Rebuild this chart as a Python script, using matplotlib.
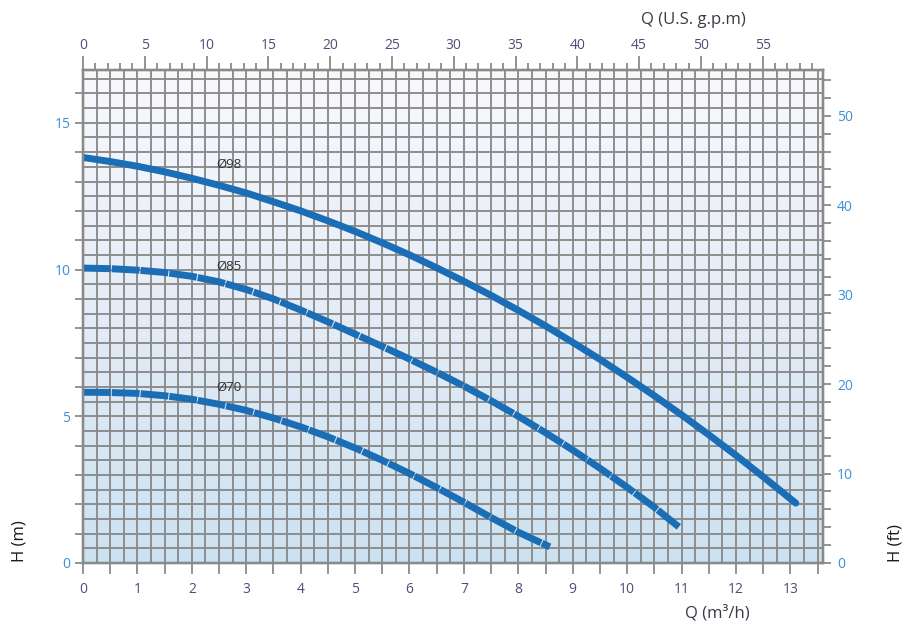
import matplotlib.pyplot as plt
import matplotlib as mpl
import numpy as np
from matplotlib.colors import LinearSegmentedColormap

# pump curves, Q in m3/h, H in m
q98 = [0, 0.5, 1, 1.5, 2, 2.5, 3, 3.5, 4, 4.5, 5, 5.5, 6, 6.5, 7, 7.5, 8, 8.5, 9,
       9.5, 10, 10.5, 11, 11.5, 12, 12.5, 13, 13.1]
h98 = [13.82, 13.68, 13.52, 13.33, 13.11, 12.87, 12.61, 12.31, 12.0, 11.66, 11.3, 10.91,
       10.5, 10.06, 9.6, 9.12, 8.61, 8.08, 7.52, 6.94, 6.33, 5.7, 5.05, 4.37, 3.67, 2.94,
       2.19, 2.04]

q85 = [0, 0.5, 1, 1.5, 2, 2.5, 3, 3.5, 4, 4.5, 5, 5.5, 6, 6.5, 7, 7.5, 8, 8.5, 9,
       9.5, 10, 10.5, 10.95]
h85 = [10.05, 10.03, 9.98, 9.9, 9.77, 9.58, 9.32, 9.0, 8.62, 8.22, 7.8, 7.38, 6.95,
       6.5, 6.03, 5.53, 5.0, 4.44, 3.85, 3.23, 2.58, 1.9, 1.23]

q70 = [0, 0.5, 1, 1.5, 2, 2.5, 3, 3.5, 4, 4.5, 5, 5.5, 6, 6.5, 7, 7.5, 8, 8.58]
h70 = [5.82, 5.81, 5.78, 5.7, 5.58, 5.41, 5.2, 4.94, 4.64, 4.3, 3.92, 3.5, 3.05, 2.57,
       2.07, 1.55, 1.05, 0.55]

names = ["Ø98", "Ø85", "Ø70"]
label_x = [2.45, 2.45, 2.45]
label_y = [13.6, 10.1, 6.0]

M3H_TO_GPM = 4.4029
M_TO_FT = 3.2808
xmax, ymax = 13.6, 16.8

grid_col = "#8a8a8a"
line_col = "#1b6db6"
num_blue = "#3d8fd6"
num_dark = "#4c4f78"

mpl.rcParams['font.family'] = ['Open Sans', 'DejaVu Sans']

fig = plt.figure(figsize=(9.18, 6.3), dpi=100)
ax = fig.add_axes([83 / 918, 1 - 563 / 630, (823 - 83) / 918, (563 - 70) / 630])

bg = LinearSegmentedColormap.from_list("bg", ["#f8f9fd", "#e4ecf7", "#cce2f0"])
ax.imshow(np.linspace(0, 1, 256).reshape(-1, 1), cmap=bg, extent=[0, xmax, 0, ymax],
          aspect="auto", origin="upper", zorder=0)

for x in np.arange(0.25, xmax, 0.25):
    ax.axvline(x, color=grid_col, lw=1.35, zorder=1)
for y in np.arange(0.5, ymax, 0.5):
    ax.axhline(y, color=grid_col, lw=1.35, zorder=1)

series = [(q98, h98), (q85, h85), (q70, h70)]
for i, (q, h) in enumerate(series):
    ls = "-" if i == 0 else (0, (4, 0.15))
    ax.plot(q, h, color=line_col, lw=5, ls=ls, solid_capstyle="round",
            dash_capstyle="butt", solid_joinstyle="round", zorder=3)
    ax.text(label_x[i], label_y[i], names[i], fontsize=9.5, color="#333333",
            ha="left", va="center", zorder=4)

ax.set_xlim(0, xmax)
ax.set_ylim(0, ymax)
ax.set_xticks(np.arange(0, 14, 1))
ax.set_xticks(np.arange(0.5, 13.6, 1), minor=True)
ax.set_yticks([0, 5, 10, 15])
ax.set_yticks(np.arange(0, 17, 1), minor=True)
ax.tick_params(axis="x", which="both", direction="out", length=8, width=1.3,
               color=grid_col, labelcolor=num_dark, labelsize=10, pad=6)
ax.tick_params(axis="y", which="both", direction="out", length=6, width=1.3,
               color=grid_col, labelcolor=num_blue, labelsize=10, pad=3)

axt = ax.twiny()
axt.set_xlim(0, xmax * M3H_TO_GPM)
axt.set_xticks(np.arange(0, 56, 5))
axt.set_xticks(np.arange(0, 60, 1), minor=True)
axt.tick_params(axis="x", which="major", direction="out", length=10, width=1.3,
                color=grid_col, labelcolor=num_dark, labelsize=10, pad=2)
axt.tick_params(axis="x", which="minor", direction="out", length=5, width=1.3, color=grid_col)

axr = ax.twinx()
axr.set_ylim(0, ymax * M_TO_FT)
axr.set_yticks(np.arange(0, 51, 10))
axr.set_yticks(np.arange(0, 56, 2), minor=True)
axr.tick_params(axis="y", which="both", direction="out", length=6, width=1.3,
                color=grid_col, labelcolor=num_blue, labelsize=10, pad=4)

for a in (ax, axt, axr):
    for s in a.spines.values():
        s.set_color(grid_col)
        s.set_linewidth(1.6)

fig.text(693 / 918, 1 - 20 / 630, "Q (U.S. g.p.m)", fontsize=12, color="#3a3a48", ha="center", va="center")
fig.text(717 / 918, 1 - 613 / 630, "Q (m³/h)", fontsize=12, color="#3a3a48", ha="center", va="center")
fig.text(20 / 918, 1 - 541 / 630, "H (m)", fontsize=12, color="#1a1a1a", ha="center", va="center", rotation=90)
fig.text(895 / 918, 1 - 543 / 630, "H (ft)", fontsize=12, color="#1a1a1a", ha="center", va="center", rotation=90)

fig.savefig("out.png", dpi=100)
